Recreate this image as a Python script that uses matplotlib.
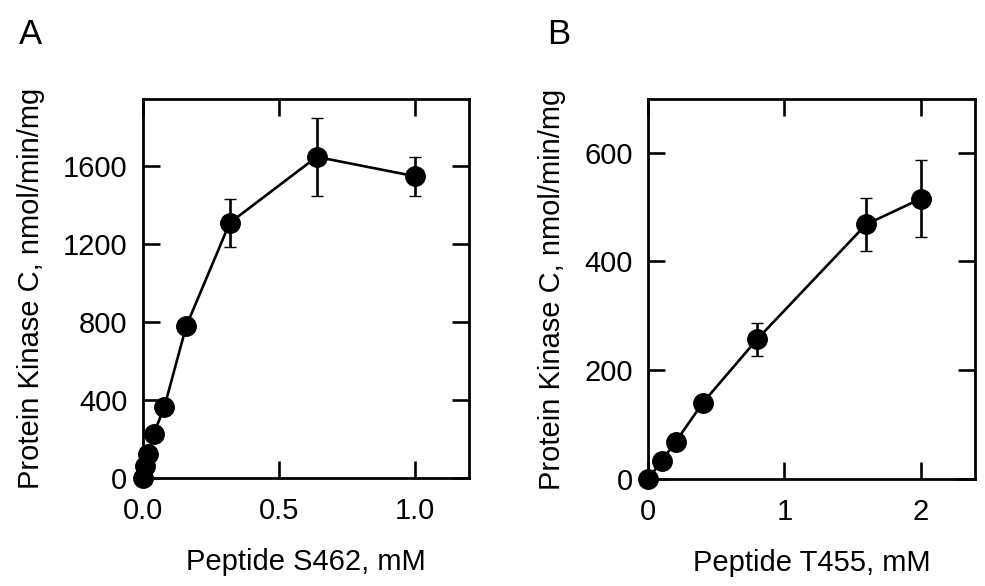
import matplotlib
matplotlib.use("Agg")
import matplotlib.pyplot as plt

plt.rcParams['font.family'] = ['Liberation Sans', 'DejaVu Sans']

# Panel A data
a_x = [0, 0.01, 0.02, 0.04, 0.08, 0.16, 0.32, 0.64, 1.0]
a_y = [0, 61, 121, 224, 366, 779, 1309, 1648, 1549]
a_err = [0, 0, 0, 0, 0, 20, 122, 200, 100]
a_xticks = [0.0, 0.5, 1.0]
a_xticklabels = ["0.0", "0.5", "1.0"]
a_yticks = [0, 400, 800, 1200, 1600]

# Panel B data
b_x = [0, 0.1, 0.2, 0.4, 0.8, 1.6, 2.0]
b_y = [0, 34, 68, 140, 257, 468, 515]
b_err = [0, 0, 0, 0, 30, 49, 71]
b_xticks = [0, 1, 2]
b_yticks = [0, 200, 400, 600]

ylabel = "Protein Kinase C, nmol/min/mg"
fs = 21

fig = plt.figure(figsize=(9.85, 5.86), dpi=100)
W, H = 985, 586

def make_ax(l, r, t, b):
    return fig.add_axes([l / W, (H - b) / H, (r - l) / W, (b - t) / H])

axA = make_ax(142.7, 469, 99, 478)
axB = make_ax(648.3, 975, 99.3, 479)

def style(ax, x, y, err, xlim, ylim, xticks, yticks, xlabel, xticklabels=None):
    ax.errorbar(x, y, yerr=err, fmt='o-', color='black', ms=14, mew=1, lw=1.9,
                elinewidth=1.9, capsize=4.6, capthick=1.9, clip_on=False, zorder=3)
    ax.set_xlim(*xlim)
    ax.set_ylim(*ylim)
    ax.set_xticks(xticks)
    if xticklabels is not None:
        ax.set_xticklabels(xticklabels)
    ax.set_yticks(yticks)
    ax.tick_params(direction='in', length=12, width=1.9, labelsize=fs,
                   top=True, right=True)
    ax.tick_params(axis='y', pad=11)
    ax.tick_params(axis='x', pad=14)
    for s in ax.spines.values():
        s.set_linewidth(2.0)
    ax.set_xlabel(xlabel, fontsize=fs, labelpad=16)
    ax.set_ylabel(ylabel, fontsize=fs, labelpad=13)

style(axA, a_x, a_y, a_err, (0, 1.2), (0, 1945), a_xticks, a_yticks,
      "Peptide S462, mM", a_xticklabels)
style(axB, b_x, b_y, b_err, (0, 2.4), (0, 698), b_xticks, b_yticks,
      "Peptide T455, mM")

fig.text(19 / W, 1 - 44 / H, "A", fontsize=25, ha='left', va='baseline')
fig.text(547 / W, 1 - 44 / H, "B", fontsize=25, ha='left', va='baseline')

fig.savefig("out.png", dpi=100)
